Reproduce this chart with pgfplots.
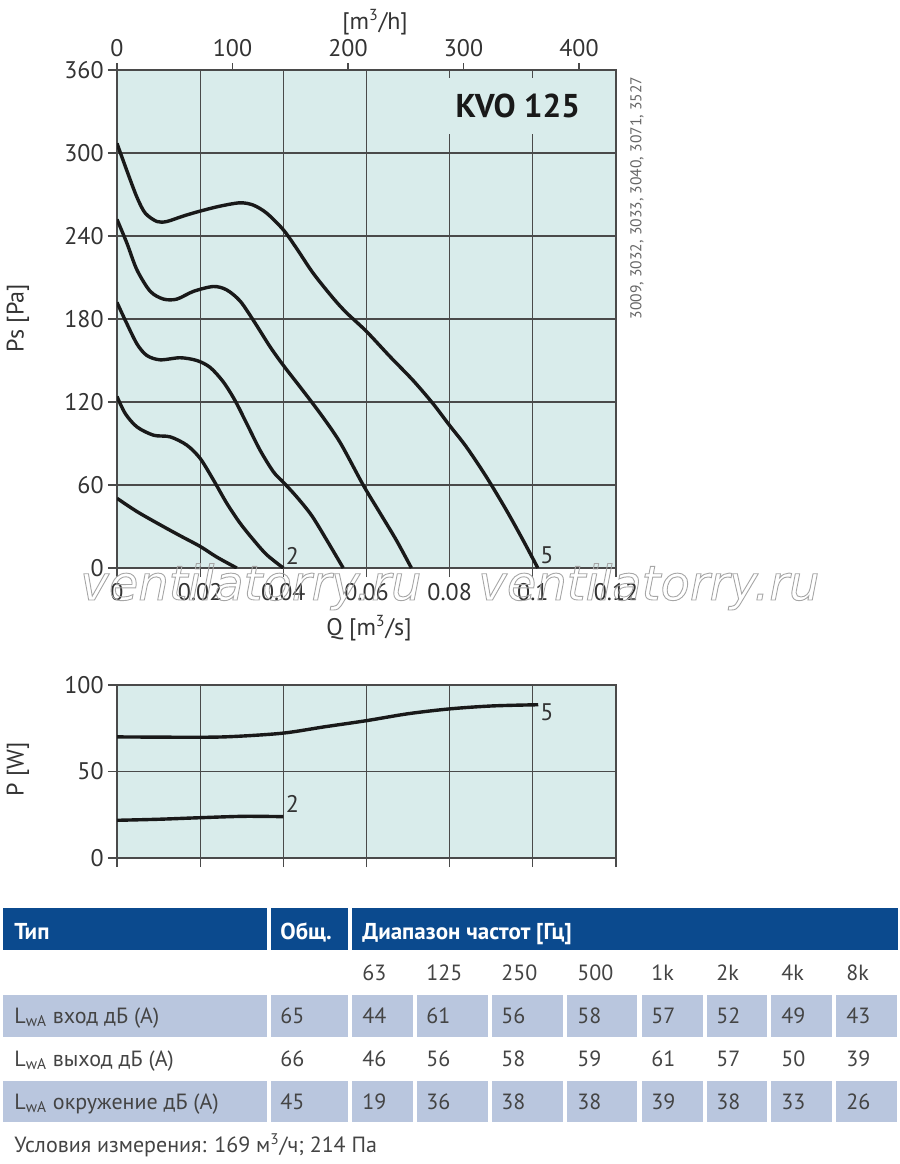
\documentclass[border=0pt]{standalone}
\usepackage{pgfplots}
\pgfplotsset{compat=1.18}
\usepackage{fontspec}
\setmainfont{PT Sans}
\newfontfamily\wmfont{DejaVu Sans}
\definecolor{bgc}{HTML}{D9ECEB}
\definecolor{gridc}{HTML}{4A4A4A}
\definecolor{tickc}{HTML}{333333}
\definecolor{hdr}{HTML}{0B4A8E}
\definecolor{rowc}{HTML}{B9C6DE}
\definecolor{tabc}{HTML}{444444}
\newcommand\outlined[1]{\special{pdf:literal direct 1 Tr 0.45 w}#1\special{pdf:literal direct 0 Tr}}
\pgfplotsset{
  fanaxis/.style={
    scale only axis, width=249.5pt,
    xmin=0, xmax=0.12,
    xtick={0,0.02,0.04,0.06,0.08,0.1,0.12},
    tick align=outside, major tick length=4.5pt,
    xtick pos=bottom, ytick pos=left,
    grid=major, major grid style={gridc, line width=0.6pt},
    axis line style={gridc, line width=0.6pt},
    tick style={gridc, line width=0.6pt},
    axis background/.style={fill=bgc},
    ticklabel style={font=\fontsize{12}{14}\selectfont, text=tickc, inner sep=0pt},
    yticklabel style={xshift=-2pt},
    xticklabel style={yshift=-3pt},
  },
  curve/.style={black!90, line width=1.7pt, smooth, tension=0.5, no markers},
}
\begin{document}
\begin{tikzpicture}[x=0.5pt,y=0.5pt]
\useasboundingbox (0,0) rectangle (900,-1164);
\coordinate (mainSW) at (117,-568);
\coordinate (powSW) at (117,-858);

% main pressure chart
\begin{axis}[fanaxis, at={(mainSW)}, anchor=south west, height=249pt,
  ymin=0, ymax=360, ytick={0,60,120,180,240,300,360},
  xticklabels={0,0.02,0.04,0.06,0.08,0.1,0.12},
  yticklabels={0,60,120,180,240,300,360}]
\node[fill=bgc, minimum width=73.5pt, minimum height=28pt, inner sep=0pt,
  font=\bfseries\fontsize{16.5}{18}\selectfont, text=black!90] at (axis cs:0.0964,334) {KVO 125};
% curve 5
\addplot[curve] coordinates {
(0,307) (0.0024,287) (0.0048,268) (0.0068,256.5) (0.0096,250.5) (0.012,250.5)
(0.016,254.5) (0.02,258) (0.0248,261.6) (0.0296,264) (0.0328,262.3) (0.036,256.5)
(0.04,244.5) (0.0432,231) (0.0472,213) (0.052,195) (0.0552,184.5) (0.06,171)
(0.0656,153) (0.0712,135.6) (0.076,118.8) (0.08,103) (0.084,87.6) (0.0888,66)
(0.0936,42) (0.0976,20.4) (0.1012,0)};
% curve 4
\addplot[curve] coordinates {
(0,252) (0.0024,234.7) (0.0048,215.5) (0.008,200) (0.0112,194.4) (0.0144,194.4)
(0.0184,200) (0.0232,203.5) (0.0264,201) (0.0296,193) (0.0328,179) (0.0368,160)
(0.04,146.5) (0.044,131) (0.0488,112) (0.0536,91) (0.0592,60) (0.0632,40)
(0.0672,20) (0.0708,0)};
% curve 3
\addplot[curve] coordinates {
(0,192) (0.002,179) (0.0048,162) (0.0072,153.6) (0.0104,150.5) (0.0152,152)
(0.0192,150) (0.0224,145) (0.0256,134.4) (0.0284,121) (0.0312,104.4) (0.0344,85.2)
(0.0376,69.6) (0.04,62) (0.0432,51.5) (0.0468,38) (0.0504,20.4) (0.0544,0)};
% curve 2
\addplot[curve] coordinates {
(0,124) (0.002,111.6) (0.0048,102) (0.0088,96) (0.0128,94.8) (0.0168,88.8)
(0.02,79.2) (0.0232,63.6) (0.0264,46.8) (0.0296,32.4) (0.0328,20.4) (0.036,9.6)
(0.04,0)};
% curve 1
\addplot[curve] coordinates {
(0,50.4) (0.0048,40.8) (0.0104,31.2) (0.0152,23.3) (0.02,15.6) (0.024,7.9)
(0.0288,0)};
\node[font=\fontsize{12}{14}\selectfont, text=tickc, inner sep=0pt] at (axis cs:0.0422,9) {2};
\node[font=\fontsize{12}{14}\selectfont, text=tickc, inner sep=0pt] at (axis cs:0.1034,9) {5};
\end{axis}

% top m3/h axis
\begin{axis}[at={(mainSW)}, anchor=south west, scale only axis, width=249.5pt, height=249pt,
  xmin=0, xmax=432, ymin=0, ymax=360,
  axis x line*=top, axis y line=none,
  xtick={0,100,200,300,400}, xticklabels={0,100,200,300,400},
  tick align=outside, major tick length=3.5pt,
  axis line style={gridc, line width=0.6pt},
  tick style={gridc, line width=0.6pt},
  ticklabel style={font=\fontsize{12}{14}\selectfont, text=tickc, inner sep=0pt},
  xticklabel style={yshift=3pt}]
\end{axis}

% power chart
\begin{axis}[fanaxis, at={(powSW)}, anchor=south west, height=86.5pt,
  ymin=0, ymax=100, ytick={0,50,100}, yticklabels={0,50,100},
  xticklabels={}]
\addplot[curve] coordinates {
(0,70) (0.02,69.8) (0.0286,70.3) (0.04,72.2) (0.0498,75.8) (0.06,79.4)
(0.07,83.4) (0.08,86.2) (0.0902,87.9) (0.1013,88.6)};
\addplot[curve] coordinates {
(0,21.8) (0.01,22.4) (0.02,23.3) (0.0306,24.1) (0.04,23.9)};
\node[font=\fontsize{12}{14}\selectfont, text=tickc, inner sep=0pt] at (axis cs:0.1034,84) {5};
\node[font=\fontsize{12}{14}\selectfont, text=tickc, inner sep=0pt] at (axis cs:0.0422,31.5) {2};
\end{axis}

% watermark (outlined text)
\node[font=\wmfont\itshape\fontsize{24}{28}\selectfont, text=black!35, anchor=base west, inner sep=0pt] at (80,-600)
  {\outlined{ventilatorry.ru}};
\node[font=\wmfont\itshape\fontsize{24}{28}\selectfont, text=black!35, anchor=base west, inner sep=0pt] at (478,-600)
  {\outlined{ventilatorry.ru}};

% axis titles
\begin{scope}[every node/.style={font=\fontsize{12}{14}\selectfont, text=tickc, inner sep=0pt}]
\node at (369,-628) {Q [m\textsuperscript{3}/s]};
\node at (375,-22) {[m\textsuperscript{3}/h]};
\node[rotate=90] at (18,-318) {Ps [Pa]};
\node[rotate=90] at (18,-769) {P [W]};
\end{scope}
\node[rotate=90, font=\fontsize{7.8}{9}\selectfont, text=black!60, inner sep=0pt] at (637,-198)
  {3009, 3032, 3033, 3040, 3071, 3527};

% table
\fill[hdr] (3,-908) rectangle (267,-950);
\fill[hdr] (271,-908) rectangle (348,-950);
\fill[hdr] (352,-908) rectangle (898,-950);
\foreach \ya/\yb in {995/1037, 1081/1122}{
  \foreach \xa/\xb in {3/267,271/348,352/413,417/488,492/563,567/637,642/703,707/767,771/832,836/897}{
    \fill[rowc] (\xa,-\ya) rectangle (\xb,-\yb);
  }
}
\begin{scope}[every node/.style={font=\fontsize{11.5}{13}\selectfont\bfseries, text=white, anchor=base west, inner sep=0pt}]
\node at (14,-939) {Тип};
\node at (280,-939) {Общ.};
\node at (362,-939) {Диапазон частот [Гц]};
\end{scope}
\begin{scope}[every node/.style={font=\fontsize{11}{13}\selectfont, text=tabc, anchor=base west, inner sep=0pt}]
\foreach \x/\t in {362/63,426/125,501/250,577/500,651/1k,716/2k,781/4k,846/8k}{
  \node at (\x,-980) {\t};
}
\node at (14,-1023) {L\textsubscript{wA} вход дБ (A)};
\node at (14,-1066) {L\textsubscript{wA} выход дБ (A)};
\node at (14,-1109) {L\textsubscript{wA} окружение дБ (A)};
\foreach \x/\a/\b/\c in {280/65/66/45,362/44/46/19,426/61/56/36,501/56/58/38,577/58/59/38,651/57/61/39,716/52/57/38,781/49/50/33,846/43/39/26}{
  \node at (\x,-1023) {\a};
  \node at (\x,-1066) {\b};
  \node at (\x,-1109) {\c};
}
\node at (14,-1152) {Условия измерения: 169 м\textsuperscript{3}/ч; 214 Па};
\end{scope}
\end{tikzpicture}
\end{document}
